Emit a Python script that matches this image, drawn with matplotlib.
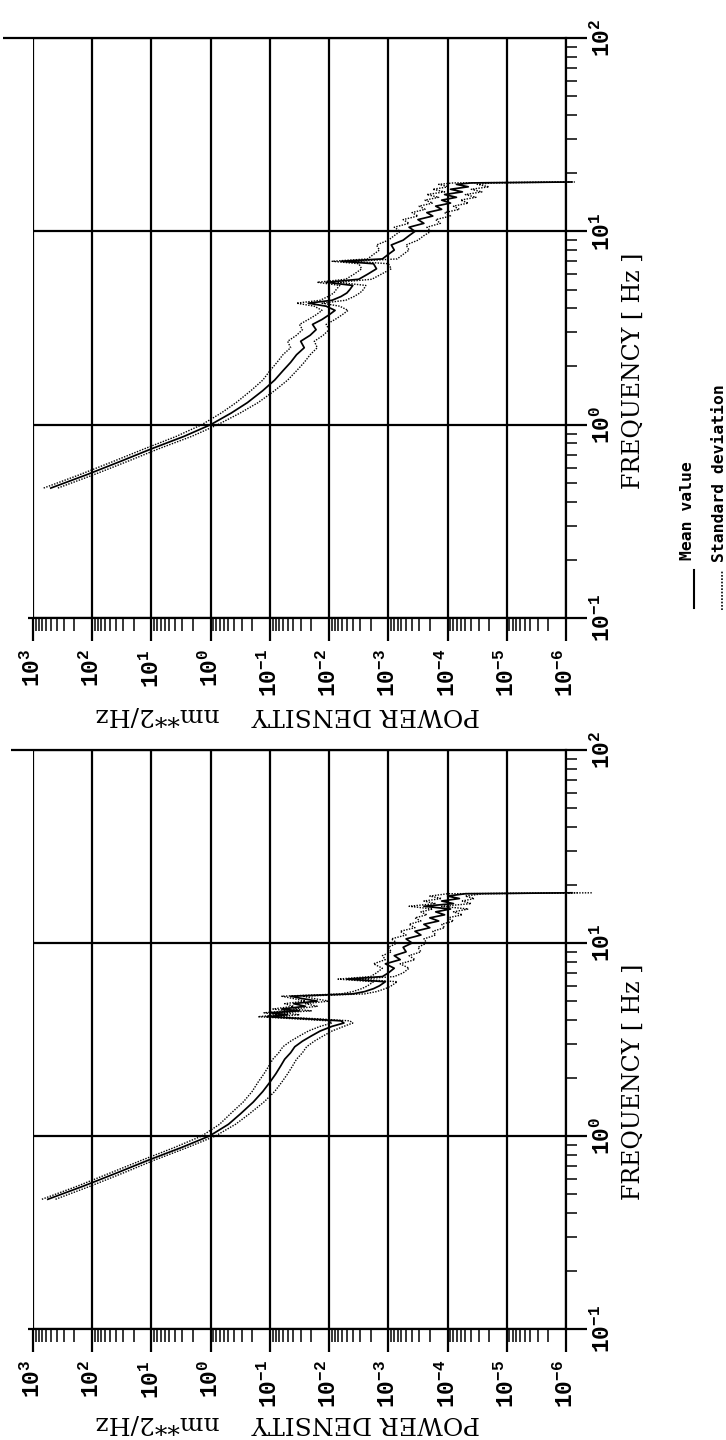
import numpy as np
import matplotlib
matplotlib.use("Agg")
import matplotlib.pyplot as plt
from matplotlib.lines import Line2D
from matplotlib.ticker import LogLocator, NullFormatter, FixedLocator

plt.rcParams['font.family'] = ['DejaVu Serif', 'DejaVu Sans']
plt.rcParams['mathtext.fontset'] = 'custom'
plt.rcParams['mathtext.rm'] = 'Liberation Mono'
plt.rcParams['mathtext.bf'] = 'Liberation Mono:bold'

# ---------------- data (frequency in Hz, PSD as log10 of nm**2/Hz) ----------------
power_ticks = [3, 2, 1, 0, -1, -2, -3, -4, -5, -6]
freq_ticks = [-1, 0, 1, 2]

top_freq = [0.47, 0.55, 0.65, 0.75, 0.87, 1.00, 1.15, 1.30, 1.50, 1.70, 1.90, 2.10,
            2.30, 2.50, 2.70, 2.90, 3.10, 3.30, 3.50, 3.70, 3.90, 4.10, 4.25, 4.40,
            4.60, 4.80, 5.00, 5.25, 5.45, 5.65, 6.00, 6.40, 6.80, 7.00, 7.20, 7.60,
            8.00, 8.50, 9.00, 9.50, 10.0, 10.5, 11.0, 11.5, 12.0, 12.5, 13.0, 13.5,
            14.0, 14.5, 15.0, 15.5, 16.0, 16.5, 17.0, 17.5, 17.8, 18.0]
top_mean = [2.70, 2.10, 1.50, 1.00, 0.45, 0.00, -0.35, -0.62, -0.88, -1.08, -1.22, -1.35,
            -1.45, -1.58, -1.52, -1.68, -1.78, -1.72, -1.88, -2.00, -2.10, -1.95, -1.65, -2.05,
            -2.20, -2.30, -2.35, -2.40, -1.95, -2.50, -2.65, -2.80, -2.75, -2.20, -2.90, -3.00,
            -3.10, -3.05, -3.25, -3.35, -3.45, -3.35, -3.60, -3.50, -3.75, -3.65, -3.90, -3.80,
            -4.05, -3.90, -4.15, -3.95, -4.25, -4.05, -4.35, -4.15, -4.40, -6.10]
top_upper = [2.82, 2.22, 1.62, 1.12, 0.58, 0.15, -0.18, -0.43, -0.68, -0.88, -1.00, -1.12,
             -1.22, -1.35, -1.30, -1.45, -1.55, -1.50, -1.65, -1.78, -1.88, -1.75, -1.45, -1.85,
             -1.98, -2.08, -2.12, -2.18, -1.80, -2.28, -2.42, -2.55, -2.50, -2.05, -2.65, -2.75,
             -2.85, -2.80, -3.00, -3.10, -3.20, -3.10, -3.35, -3.25, -3.50, -3.40, -3.62, -3.52,
             -3.75, -3.62, -3.85, -3.65, -3.95, -3.75, -4.02, -3.85, -4.10, -6.05]
top_lower = [2.58, 1.98, 1.38, 0.88, 0.32, -0.12, -0.50, -0.80, -1.08, -1.30, -1.45, -1.58,
             -1.68, -1.80, -1.75, -1.90, -2.00, -1.95, -2.10, -2.22, -2.32, -2.18, -1.88, -2.28,
             -2.42, -2.52, -2.58, -2.62, -2.15, -2.72, -2.88, -3.05, -3.00, -2.40, -3.15, -3.25,
             -3.35, -3.30, -3.50, -3.60, -3.72, -3.65, -3.88, -3.80, -4.05, -3.95, -4.20, -4.10,
             -4.35, -4.22, -4.48, -4.30, -4.58, -4.40, -4.70, -4.50, -4.75, -6.15]

bot_freq = [0.47, 0.55, 0.65, 0.75, 0.87, 1.00, 1.15, 1.30, 1.50, 1.70, 1.90, 2.10,
            2.30, 2.50, 2.70, 2.90, 3.10, 3.30, 3.50, 3.70, 3.85, 3.95, 4.05, 4.15,
            4.25, 4.35, 4.45, 4.55, 4.70, 4.85, 5.00, 5.15, 5.30, 5.45, 5.60, 5.80,
            6.00, 6.30, 6.50, 6.70, 7.00, 7.40, 7.80, 8.20, 8.60, 9.00, 9.50, 10.0,
            10.5, 11.0, 11.5, 12.0, 12.5, 13.0, 13.5, 14.0, 14.5, 15.0, 15.5, 16.0,
            16.5, 17.0, 17.5, 18.0, 18.2]
bot_mean = [2.75, 2.15, 1.55, 1.05, 0.50, 0.02, -0.30, -0.50, -0.72, -0.88, -1.00, -1.10,
            -1.18, -1.25, -1.35, -1.42, -1.55, -1.70, -1.85, -2.05, -2.25, -2.20, -1.60, -0.95,
            -1.30, -1.00, -1.50, -1.20, -1.60, -1.40, -1.80, -1.55, -1.35, -2.40, -2.60, -2.75,
            -2.85, -2.95, -2.30, -2.90, -3.00, -3.10, -2.95, -3.20, -3.10, -3.30, -3.25, -3.40,
            -3.30, -3.55, -3.45, -3.70, -3.60, -3.85, -3.70, -3.95, -3.80, -4.05, -3.60, -4.10,
            -3.90, -4.20, -4.00, -4.30, -6.10]
bot_upper = [2.85, 2.25, 1.66, 1.16, 0.62, 0.15, -0.15, -0.33, -0.55, -0.70, -0.80, -0.90,
             -0.98, -1.05, -1.15, -1.22, -1.35, -1.50, -1.65, -1.85, -2.05, -2.00, -1.40, -0.80,
             -1.15, -0.90, -1.30, -1.05, -1.40, -1.25, -1.60, -1.40, -1.20, -2.20, -2.40, -2.55,
             -2.65, -2.75, -2.15, -2.70, -2.80, -2.90, -2.75, -2.95, -2.90, -3.05, -3.00, -3.15,
             -3.05, -3.30, -3.20, -3.45, -3.35, -3.55, -3.45, -3.65, -3.55, -3.75, -3.35, -3.80,
             -3.60, -3.90, -3.70, -4.00, -6.45]
bot_lower = [2.62, 2.03, 1.44, 0.95, 0.40, -0.08, -0.42, -0.65, -0.90, -1.08, -1.20, -1.30,
             -1.38, -1.45, -1.55, -1.62, -1.75, -1.90, -2.05, -2.25, -2.40, -2.35, -1.80, -1.10,
             -1.50, -1.20, -1.70, -1.40, -1.80, -1.60, -2.00, -1.75, -1.55, -2.60, -2.80, -2.95,
             -3.05, -3.15, -2.50, -3.10, -3.25, -3.35, -3.20, -3.45, -3.35, -3.55, -3.50, -3.65,
             -3.60, -3.80, -3.75, -3.95, -3.90, -4.10, -4.00, -4.25, -4.10, -4.35, -3.90, -4.40,
             -4.25, -4.45, -4.30, -4.60, -6.20]

legend_labels = ["Mean value", "Standard deviation"]

# ---------------- layout ----------------
W, H = 726, 1440
fig = plt.figure(figsize=(W / 100, H / 100), dpi=100)
PX = 0.72  # points per pixel at dpi 100


def fx(px):
    return px / W


def fy(py):
    return 1 - py / H


def make_panel(top_px, bottom_px, freq, mean, upper, lower, flabel_y, plabel_y, top_ext):
    left_px, right_px = 33, 566
    ax = fig.add_axes([fx(left_px), fy(bottom_px), (right_px - left_px) / W,
                       (bottom_px - top_px) / H])
    ax.set_xscale('log')
    ax.set_yscale('log')
    ax.set_xlim(10.0 ** power_ticks[0], 10.0 ** power_ticks[-1])
    ax.set_ylim(10.0 ** freq_ticks[0], 10.0 ** freq_ticks[-1])

    for s in ['top', 'left', 'bottom']:
        ax.spines[s].set_visible(False)
    ax.spines['right'].set_linewidth(1.6)

    ax.xaxis.set_major_locator(FixedLocator([10.0 ** k for k in power_ticks]))
    ax.xaxis.set_minor_locator(LogLocator(base=10, subs=np.arange(2, 10), numticks=30))
    ax.xaxis.set_minor_formatter(NullFormatter())
    ax.set_xticklabels([r'$\mathbf{10^{%d}}$' % k for k in power_ticks])
    ax.yaxis.tick_right()
    ax.yaxis.set_major_locator(FixedLocator([10.0 ** k for k in freq_ticks]))
    ax.yaxis.set_minor_locator(LogLocator(base=10, subs=np.arange(2, 10), numticks=30))
    ax.yaxis.set_minor_formatter(NullFormatter())
    ax.set_yticklabels([r'$\mathbf{10^{%d}}$' % k for k in freq_ticks])

    ax.tick_params(axis='x', which='major', direction='out', length=23 * PX, width=1.6,
                   pad=8 * PX, labelsize=16.5)
    ax.tick_params(axis='x', which='minor', direction='out', length=13 * PX, width=1.1)
    ax.tick_params(axis='y', which='major', direction='out', length=21 * PX, width=1.6,
                   pad=4 * PX, labelsize=16.5, right=True, left=False)
    ax.tick_params(axis='y', which='minor', direction='out', length=11 * PX, width=1.1,
                   right=True, left=False)
    for lab in ax.get_xticklabels():
        lab.set_rotation(90)
        lab.set_va('top')
        lab.set_ha('center')
    for lab in ax.get_yticklabels():
        lab.set_rotation(90)
        lab.set_va('center')
        lab.set_ha('left')

    ax.grid(True, which='major', color='black', linewidth=1.6)
    ax.set_axisbelow(True)

    # frame lines: f = 10^2 (top) extended to the left, f = 10^-1 (bottom)
    ax.plot([top_ext, 1.0], [1.0, 1.0], transform=ax.transAxes, color='black', lw=1.6,
            clip_on=False, solid_capstyle='butt')
    ax.plot([-0.01, 1.0], [0.0, 0.0], transform=ax.transAxes, color='black', lw=1.6,
            clip_on=False, solid_capstyle='butt')

    f = np.array(freq)
    ax.plot(10.0 ** np.array(upper), f, color='black', lw=1.0, ls=(0, (1, 1)), clip_on=False)
    ax.plot(10.0 ** np.array(lower), f, color='black', lw=1.0, ls=(0, (1, 1)), clip_on=False)
    ax.plot(10.0 ** np.array(mean), f, color='black', lw=1.25, clip_on=False)

    fig.text(fx(288), fy(plabel_y), 'POWER DENSITY    nm**2/Hz', rotation=180,
             ha='center', va='center', fontsize=18, family=['DejaVu Serif'])
    fig.text(fx(633), fy(flabel_y), 'FREQUENCY [ Hz ]', rotation=90,
             ha='center', va='center', fontsize=17, family=['DejaVu Serif'])
    return ax


make_panel(38, 618, top_freq, top_mean, top_upper, top_lower, 371, 715, -0.056)
make_panel(750, 1329, bot_freq, bot_mean, bot_upper, bot_lower, 1082, 1423, -0.041)

# legend (rotated)
leg_font = dict(rotation=90, ha='center', va='bottom', fontsize=11.8, fontweight='bold',
                family=['DejaVu Sans Mono'])
fig.text(fx(687), fy(560), legend_labels[0], **leg_font)
fig.text(fx(719), fy(562), legend_labels[1], **leg_font)
fig.add_artist(Line2D([fx(694), fx(694)], [fy(608), fy(570)], color='black', lw=1.5,
                      transform=fig.transFigure))
fig.add_artist(Line2D([fx(722), fx(722)], [fy(610), fy(570)], color='black', lw=1.2,
                      ls=(0, (1, 1)), transform=fig.transFigure))

fig.savefig('out.png', dpi=100, facecolor='white')
